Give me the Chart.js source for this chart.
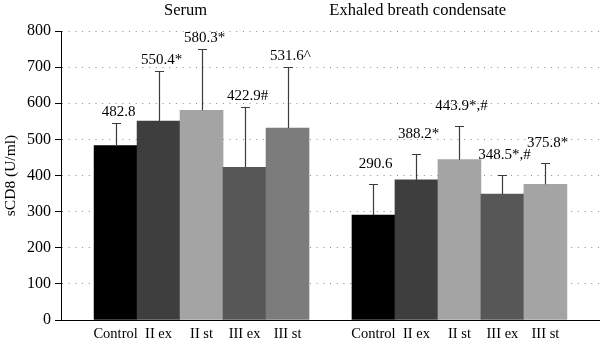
<!DOCTYPE html>
<html>
<head>
<meta charset="utf-8">
<script src="https://cdn.jsdelivr.net/npm/chart.js@4/dist/chart.umd.min.js"></script>
<style>
  html, body { margin: 0; padding: 0; background: #fff; }
  #wrap { width: 600px; height: 346px; }
</style>
</head>
<body>
<div id="wrap"><canvas id="c"></canvas></div>
<script>
// sCD8 concentrations (U/ml), mean and SD per study group
const groups = ['Serum', 'Exhaled breath condensate'];
const categories = ['Control', 'II ex', 'II st', 'III ex', 'III st'];

const serumMeans = [482.8, 550.4, 580.3, 422.9, 531.6];
const serumSD    = [63, 138, 170, 167, 169];
const serumMarks = ['', '*', '*', '#', '^'];

const ebcMeans = [290.6, 388.2, 443.9, 348.5, 375.8];
const ebcSD    = [87, 72, 92, 54, 60];
const ebcMarks = ['', '*', '*,#', '*,#', '*'];

const yTicks = [0, 100, 200, 300, 400, 500, 600, 700, 800];

// bar fills for each category, per group
const serumColors = ['#000000', '#3e3e3e', '#a4a4a4', '#575757', '#7c7c7c'];
const ebcColors   = ['#000000', '#3e3e3e', '#a4a4a4', '#575757', '#a4a4a4'];

// one slot per bar, with an empty slot separating the two groups
const slotsPerGroup = categories.length + 1;
const bars = [];
[[serumMeans, serumSD, serumMarks, serumColors], [ebcMeans, ebcSD, ebcMarks, ebcColors]]
  .forEach(([means, sds, marks, colors], g) => {
    means.forEach((m, i) => {
      bars.push({ slot: g * slotsPerGroup + i, mean: m, sd: sds[i], mark: marks[i], color: colors[i], group: g });
    });
  });

const SERIF = '"Liberation Serif", "Times New Roman", serif';

// error bars, value labels and group headings
const overlay = {
  id: 'overlay',
  afterDatasetsDraw(chart) {
    const { ctx, scales: { x, y } } = chart;
    const meta = chart.getDatasetMeta(0);
    ctx.save();
    bars.forEach((b, k) => {
      const cx = Math.round(meta.data[k].x) + 0.5;
      const yTop = y.getPixelForValue(b.mean);
      const yErr = Math.round(y.getPixelForValue(b.mean + b.sd)) + 0.5;
      ctx.strokeStyle = '#3c3c3c';
      ctx.lineWidth = 1.2;
      ctx.beginPath();
      ctx.moveTo(cx, yTop);
      ctx.lineTo(cx, yErr);
      ctx.moveTo(cx - 4.5, yErr);
      ctx.lineTo(cx + 4.5, yErr);
      ctx.stroke();

      ctx.fillStyle = '#000';
      ctx.font = '15px ' + SERIF;
      ctx.textAlign = 'center';
      ctx.textBaseline = 'middle';
      ctx.fillText(b.mean.toFixed(1) + b.mark, cx + 2, yErr - (b.group ? 20 : 11));
    });

    ctx.font = '16.5px ' + SERIF;
    ctx.textAlign = 'center';
    ctx.textBaseline = 'middle';
    ctx.fillStyle = '#000';
    ctx.fillText(groups[0], x.getPixelForValue(1.63), 11);
    ctx.fillText(groups[1], x.getPixelForValue(7.03), 11);
    ctx.restore();
  }
};

new Chart(document.getElementById('c'), {
  type: 'bar',
  data: {
    datasets: [{
      data: bars.map(b => ({ x: b.slot, y: b.mean })),
      backgroundColor: bars.map(b => b.color),
      borderWidth: 0,
      barPercentage: 1,
      categoryPercentage: 1
    }]
  },
  options: {
    responsive: true,
    maintainAspectRatio: false,
    animation: false,
    devicePixelRatio: 1,
    layout: { padding: { top: 31, right: 0, left: 0, bottom: 0 } },
    plugins: { legend: { display: false }, tooltip: { enabled: false }, title: { display: false } },
    scales: {
      x: {
        type: 'linear',
        offset: false,
        bounds: 'data',
        min: -1.27,
        max: 11.27,
        afterBuildTicks: s => { s.ticks = bars.map(b => ({ value: b.slot })); },
        afterFit: s => { s.height = 26; },
        grid: { display: false, drawTicks: false },
        border: { display: true, color: '#000', width: 1 },
        ticks: {
          autoSkip: false,
          maxRotation: 0,
          padding: 5,
          color: '#000',
          font: { family: SERIF, size: 14.5 },
          callback: v => categories[Math.round(v) % slotsPerGroup]
        }
      },
      y: {
        min: 0,
        max: 800,
        afterBuildTicks: s => { s.ticks = yTicks.map(v => ({ value: v })); },
        afterFit: s => { s.width = 61; },
        grid: {
          color: '#8c8c8c',
          lineWidth: 1,
          tickLength: 6,
          tickColor: '#000',
          tickWidth: 1,
          tickBorderDash: []
        },
        border: { display: true, color: '#000', width: 1, dash: [1, 5.7] },
        ticks: {
          padding: 4,
          color: '#000',
          font: { family: SERIF, size: 16 }
        },
        title: {
          display: true,
          text: 'sCD8 (U/ml)',
          color: '#000',
          padding: { top: 2, bottom: 0 },
          font: { family: SERIF, size: 15.5 }
        }
      }
    }
  },
  plugins: [overlay]
});
</script>
</body>
</html>
